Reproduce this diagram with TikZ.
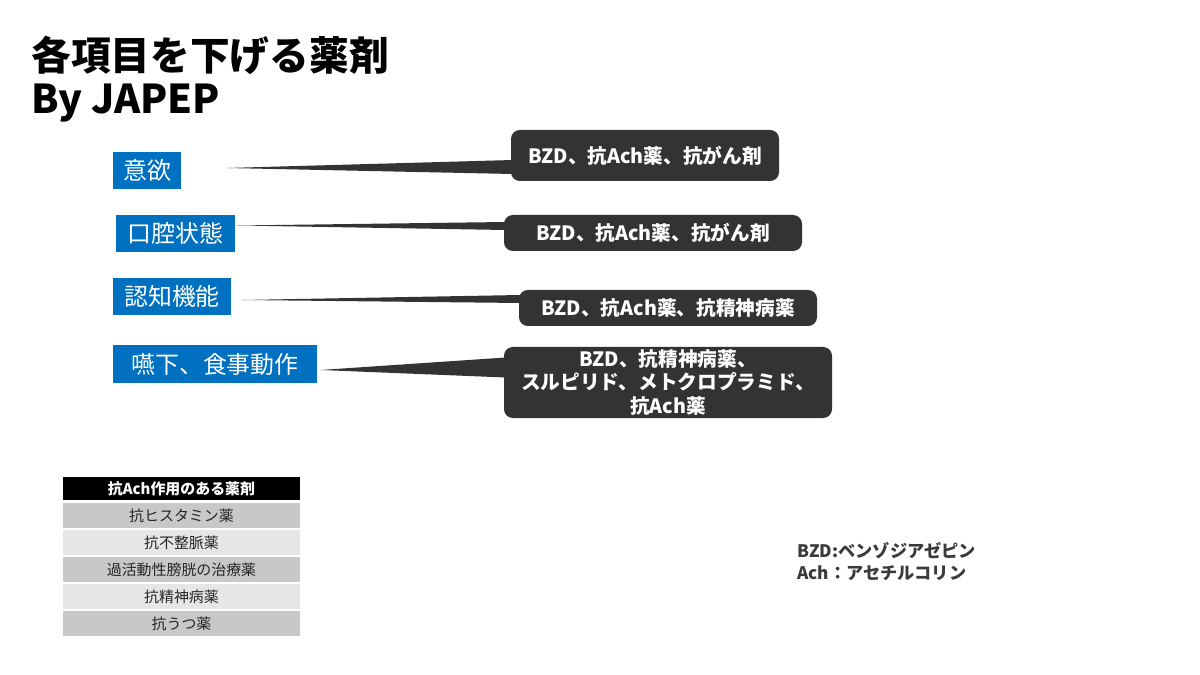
\documentclass[tikz,border=0pt]{standalone}
\usepackage{fontspec}
\setmainfont{Noto Sans CJK JP}
\usetikzlibrary{calc}
\definecolor{bluebox}{HTML}{0070C0}
\definecolor{darkbox}{HTML}{333333}
\definecolor{rowA}{HTML}{C8C8C8}
\definecolor{rowB}{HTML}{E6E6E6}
\definecolor{legendtext}{HTML}{3A3A3A}
\newdimen\pxu
\pxu=0.02cm
\tikzset{
  bluelabel/.style={fill=bluebox, text=white, inner sep=0pt, font=\fontsize{13.6}{16}\selectfont},
  darklabel/.style={fill=darkbox, text=white, rounded corners=5pt, inner sep=0pt, align=center, font=\bfseries\fontsize{11.2}{13.5}\selectfont},
  wedge/.style={fill=darkbox},
  tabhead/.style={fill=black, text=white, inner sep=0pt, minimum width=237\pxu, minimum height=23\pxu, font=\bfseries\fontsize{8.5}{10}\selectfont},
  tabrow/.style={inner sep=0pt, minimum width=237\pxu, minimum height=25\pxu, text=black!85, font=\fontsize{8.5}{10}\selectfont},
  legend/.style={anchor=west, inner sep=0pt, text=legendtext, font=\bfseries\fontsize{9.8}{12}\selectfont},
  titletext/.style={anchor=west, inner sep=0pt, font=\bfseries\fontsize{22.6}{26}\selectfont},
}
\begin{document}
\begin{tikzpicture}[x=0.02cm, y=-0.02cm]
\useasboundingbox (0,0) rectangle (1200,675);

% title
\node[titletext] (title1) at (31,55) {各項目を下げる薬剤};
\node[titletext] (title2) at (31,103) {By JAPEP};

% blue labels
\node[bluelabel, minimum width=68\pxu, minimum height=37\pxu] (b1) at (147,170.5) {意欲};
\node[bluelabel, minimum width=119\pxu, minimum height=37\pxu] (b2) at (175.5,233.5) {口腔状態};
\node[bluelabel, minimum width=118\pxu, minimum height=37\pxu] (b3) at (172,296.5) {認知機能};
\node[bluelabel, minimum width=204\pxu, minimum height=38\pxu] (b4) at (215,364) {嚥下、食事動作};

% dark boxes
\node[darklabel, minimum width=268\pxu, minimum height=51\pxu] (d1) at (645,155.5) {BZD、抗Ach薬、抗がん剤};
\node[darklabel, minimum width=298\pxu, minimum height=36\pxu] (d2) at (653,233) {BZD、抗Ach薬、抗がん剤};
\node[darklabel, minimum width=298\pxu, minimum height=36\pxu] (d3) at (668,308) {BZD、抗Ach薬、抗精神病薬};
\node[darklabel, minimum width=328\pxu, minimum height=71\pxu] (d4) at (668,382.5) {BZD、抗精神病薬、\\スルピリド、メトクロプラミド、\\抗Ach薬};

% wedges (callout connectors)
\fill[wedge] ($(b1.east)+(45,-2.5)$) -- ($(d1.west)+(2,4.5)$) -- ($(d1.west)+(2,18.5)$) -- cycle;
\fill[wedge] ($(b2.east)+(2,-8)$) -- ($(d2.west)+(2,-11)$) -- ($(d2.west)+(2,-3)$) -- cycle;
\fill[wedge] ($(b3.east)+(10,3.5)$) -- ($(d3.west)+(2,-13)$) -- ($(d3.west)+(2,-5)$) -- cycle;
\fill[wedge] ($(b4.east)+(3,6)$) -- ($(d4.west)+(2,-25)$) -- ($(d4.west)+(2,-5)$) -- cycle;

% table
\node[tabhead] (th) at (181.5,488.5) {抗Ach作用のある薬剤};
\node[tabrow, fill=rowA] (r1) at (181.5,515.5) {抗ヒスタミン薬};
\node[tabrow, fill=rowB] (r2) at (181.5,542.5) {抗不整脈薬};
\node[tabrow, fill=rowA] (r3) at (181.5,569.5) {過活動性膀胱の治療薬};
\node[tabrow, fill=rowB] (r4) at (181.5,596.5) {抗精神病薬};
\node[tabrow, fill=rowA] (r5) at (181.5,623.5) {抗うつ薬};

% legend
\node[legend] (l1) at (797,551) {BZD:ベンゾジアゼピン};
\node[legend] (l2) at (797,573) {Ach：アセチルコリン};
\end{tikzpicture}
\end{document}
